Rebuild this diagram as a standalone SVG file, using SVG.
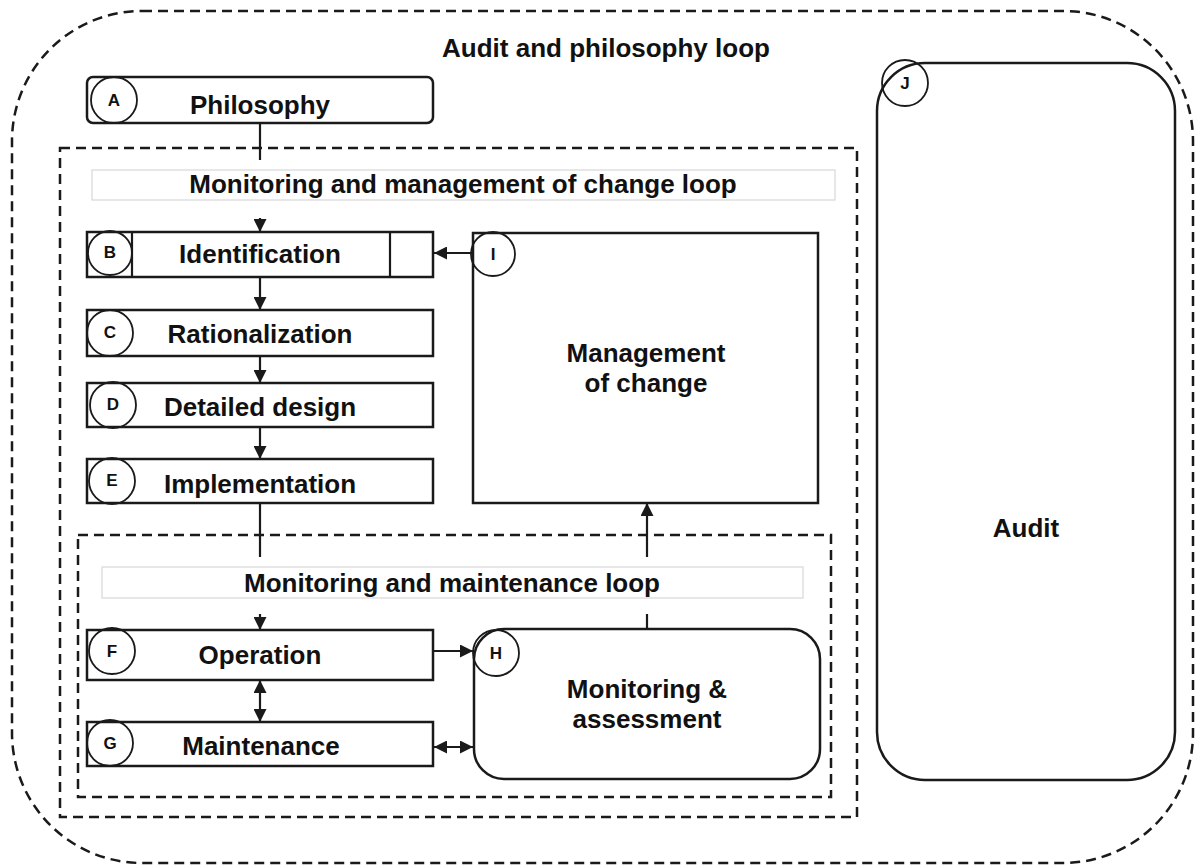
<svg xmlns="http://www.w3.org/2000/svg" width="1196" height="867" viewBox="0 0 1196 867">
<style>
text{font-family:"Liberation Sans",Arial,sans-serif;font-weight:bold;fill:#111;}
.lbl{font-size:26px;text-anchor:middle;}
.ltr{font-size:17px;text-anchor:middle;}
.box{fill:#fff;stroke:#1a1a1a;stroke-width:2.5;}
.circ{fill:none;stroke:#1a1a1a;stroke-width:1.8;}
.dash{fill:none;stroke:#1a1a1a;stroke-width:2.5;stroke-dasharray:10 6;}
.conn{fill:none;stroke:#1a1a1a;stroke-width:2.2;}
.hdr{fill:#fff;stroke:none;}
.hdrline{fill:none;stroke:#d8d8d8;stroke-width:1.2;}
</style>
<defs>
<marker id="arr" viewBox="0 0 13 13" refX="13" refY="6.5" markerWidth="13" markerHeight="13" markerUnits="userSpaceOnUse" orient="auto-start-reverse">
<path d="M0,0 L13,6.5 L0,13 z" fill="#1a1a1a"/>
</marker>
</defs>
<rect width="1196" height="867" fill="#fff"/>

<g id="loop-audit-philosophy">
<rect class="dash" x="12" y="11" width="1181" height="852" rx="130" ry="130"/>
<text class="lbl" x="606" y="57">Audit and philosophy loop</text>
</g>
<g id="loop-moc">
<rect class="dash" x="60" y="148" width="797" height="669"/>
</g>
<g id="loop-maintenance">
<rect class="dash" x="78" y="535" width="753" height="262"/>
</g>

<g id="connectors">
<path class="conn" d="M260,123 V232" marker-end="url(#arr)"/>
<path class="conn" d="M260,277 V310" marker-end="url(#arr)"/>
<path class="conn" d="M260,356 V383" marker-end="url(#arr)"/>
<path class="conn" d="M260,427 V459" marker-end="url(#arr)"/>
<path class="conn" d="M260,503 V630" marker-end="url(#arr)"/>
<path class="conn" d="M260,680 V722" marker-start="url(#arr)" marker-end="url(#arr)"/>
<path class="conn" d="M434,651 H473" marker-end="url(#arr)"/>
<path class="conn" d="M434,747 H473" marker-start="url(#arr)" marker-end="url(#arr)"/>
<path class="conn" d="M647,629 V503" marker-end="url(#arr)"/>
<path class="conn" d="M473,253 H434" marker-end="url(#arr)"/>
</g>

<g id="header-moc">
<rect class="hdr" x="92" y="160" width="743" height="58"/>
<rect class="hdrline" x="92" y="170" width="743" height="30"/>
<text class="lbl" x="463" y="193">Monitoring and management of change loop</text>
</g>
<g id="header-maintenance">
<rect class="hdr" x="102" y="557" width="701" height="57"/>
<rect class="hdrline" x="102" y="567" width="701" height="31"/>
<text class="lbl" x="452" y="592">Monitoring and maintenance loop</text>
</g>

<g id="node-A">
<rect class="box" x="87" y="77" width="346" height="46" rx="6" ry="6"/>
<circle class="circ" cx="114" cy="100" r="23"/>
<text class="ltr" x="114" y="106">A</text>
<text class="lbl" x="260" y="114">Philosophy</text>
</g>
<g id="node-B">
<rect class="box" x="87" y="232" width="346" height="45"/>
<line class="conn" x1="132" y1="232" x2="132" y2="277"/>
<line class="conn" x1="390" y1="232" x2="390" y2="277"/>
<circle class="circ" cx="110" cy="253" r="22"/>
<text class="ltr" x="110" y="258">B</text>
<text class="lbl" x="260" y="263">Identification</text>
</g>
<g id="node-C">
<rect class="box" x="87" y="310" width="346" height="46"/>
<circle class="circ" cx="110" cy="333" r="23"/>
<text class="ltr" x="110" y="338">C</text>
<text class="lbl" x="260" y="343">Rationalization</text>
</g>
<g id="node-D">
<rect class="box" x="87" y="383" width="346" height="44"/>
<circle class="circ" cx="113" cy="405" r="23"/>
<text class="ltr" x="113" y="410">D</text>
<text class="lbl" x="260" y="416">Detailed design</text>
</g>
<g id="node-E">
<rect class="box" x="87" y="459" width="346" height="44"/>
<circle class="circ" cx="112" cy="481" r="23"/>
<text class="ltr" x="112" y="486">E</text>
<text class="lbl" x="260" y="493">Implementation</text>
</g>
<g id="node-F">
<rect class="box" x="87" y="630" width="346" height="50"/>
<circle class="circ" cx="112" cy="651" r="23"/>
<text class="ltr" x="112" y="657">F</text>
<text class="lbl" x="260" y="664">Operation</text>
</g>
<g id="node-G">
<rect class="box" x="87" y="722" width="346" height="44"/>
<circle class="circ" cx="110" cy="743" r="23"/>
<text class="ltr" x="110" y="749">G</text>
<text class="lbl" x="261" y="755">Maintenance</text>
</g>
<g id="node-H">
<rect class="box" x="474" y="629" width="346" height="150" rx="30" ry="30"/>
<circle class="circ" cx="496" cy="653" r="23"/>
<text class="ltr" x="496" y="659">H</text>
<text class="lbl" x="647" y="698">Monitoring &amp;</text>
<text class="lbl" x="647" y="728">assessment</text>
</g>
<g id="node-I">
<rect class="box" x="473" y="233" width="345" height="270"/>
<circle class="circ" cx="493" cy="254" r="22"/>
<text class="ltr" x="493" y="260">I</text>
<text class="lbl" x="646" y="362">Management</text>
<text class="lbl" x="646" y="392">of change</text>
</g>
<g id="node-J">
<rect class="box" x="877" y="63" width="298" height="717" rx="48" ry="48"/>
<circle class="circ" cx="905" cy="83" r="23"/>
<text class="ltr" x="905" y="89">J</text>
<text class="lbl" x="1026" y="537">Audit</text>
</g>
</svg>
